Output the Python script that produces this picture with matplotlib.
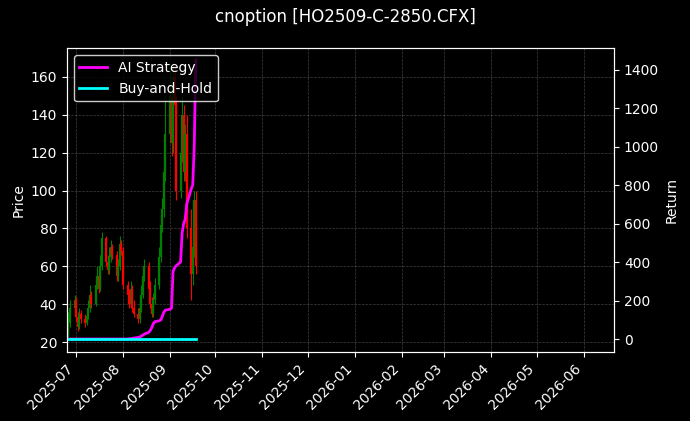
import matplotlib
matplotlib.use('Agg')
import matplotlib.pyplot as plt
import matplotlib.dates as mdates
import pandas as pd
import numpy as np

plt.style.use('dark_background')

dates = pd.bdate_range('2025-06-26', periods=61)

opens = [25, 30, 38, 42, 33, 28, 35, 32, 30, 34, 38, 45, 40, 50, 55, 48, 60, 75, 62, 58, 65, 70, 66,
         55, 60, 72, 68, 50, 45, 40, 48, 38, 35, 32, 38, 45, 55, 60, 48, 40, 35, 42, 50, 65,
         82, 90, 110, 130, 150, 125, 160, 145, 100, 120, 140, 110, 130, 80, 56, 70, 95]
closes = [30, 38, 42, 33, 28, 35, 32, 30, 34, 38, 45, 40, 50, 55, 48, 60, 75, 62, 58, 65, 70, 66, 55,
          60, 72, 68, 50, 45, 40, 48, 38, 35, 32, 38, 45, 55, 60, 48, 40, 35, 42, 50, 65, 82,
          90, 110, 130, 150, 125, 160, 145, 100, 120, 140, 110, 130, 80, 56, 70, 95, 60]
highs = [36, 42, 45, 44, 36, 38, 37, 35, 38, 42, 50, 47, 54, 60, 58, 66, 78, 76, 66, 70, 74, 72, 68,
         64, 76, 74, 70, 52, 48, 52, 50, 42, 38, 42, 50, 60, 64, 62, 52, 44, 46, 54, 70, 88,
         96, 120, 150, 165, 155, 168, 166, 150, 130, 150, 145, 135, 140, 90, 75, 100, 100]
lows = [22, 28, 35, 31, 26, 27, 30, 28, 29, 32, 36, 38, 39, 48, 46, 47, 58, 60, 56, 56, 62, 64, 52,
        52, 58, 66, 48, 42, 38, 38, 36, 33, 30, 30, 36, 43, 52, 46, 38, 33, 33, 40, 48, 62,
        78, 86, 105, 125, 118, 120, 140, 95, 96, 115, 105, 105, 75, 42, 50, 65, 56]

strategy = [0] * 26 + [0, 0, 1, 2, 3, 5, 8, 10, 15, 20, 25, 35, 45, 60, 80, 90, 95, 100, 120, 140, 150,
                       155, 160, 350, 370, 380, 400, 550, 600, 620, 700, 780, 800, 1000, 1450]
buy_hold = [0] * 61

fig, ax = plt.subplots(figsize=(6.9, 4.21), dpi=100)
fig.patch.set_facecolor('black')
ax.set_facecolor('black')

for d, o, c, h, l in zip(dates, opens, closes, highs, lows):
    col = 'green' if c >= o else 'red'
    ax.vlines(d, l, h, color=col, linewidth=0.8)
    ax.vlines(d, min(o, c), max(o, c), color=col, linewidth=1.6)

ax.set_ylabel('Price')
ax.set_ylim(15, 175)
ax.set_xlim(pd.Timestamp('2025-06-25'), pd.Timestamp('2026-06-21'))
ax.xaxis.set_major_locator(mdates.MonthLocator())
ax.xaxis.set_major_formatter(mdates.DateFormatter('%Y-%m'))
plt.setp(ax.get_xticklabels(), rotation=45, ha='right')
ax.grid(True, linestyle='--', color='gray', alpha=0.5, linewidth=0.5)

ax2 = ax.twinx()
ax2.plot(dates, strategy, color='magenta', linewidth=2, label='AI Strategy')
ax2.plot(dates, buy_hold, color='cyan', linewidth=2, label='Buy-and-Hold')
ax2.set_ylim(-65, 1510)
ax2.set_ylabel('Return')
ax2.legend(loc='upper left', facecolor='black', edgecolor='white')

fig.suptitle('cnoption [HO2509-C-2850.CFX]')
fig.subplots_adjust(left=0.097, right=0.89, top=0.885, bottom=0.165)
fig.savefig('out.png', dpi=100, facecolor='black')
